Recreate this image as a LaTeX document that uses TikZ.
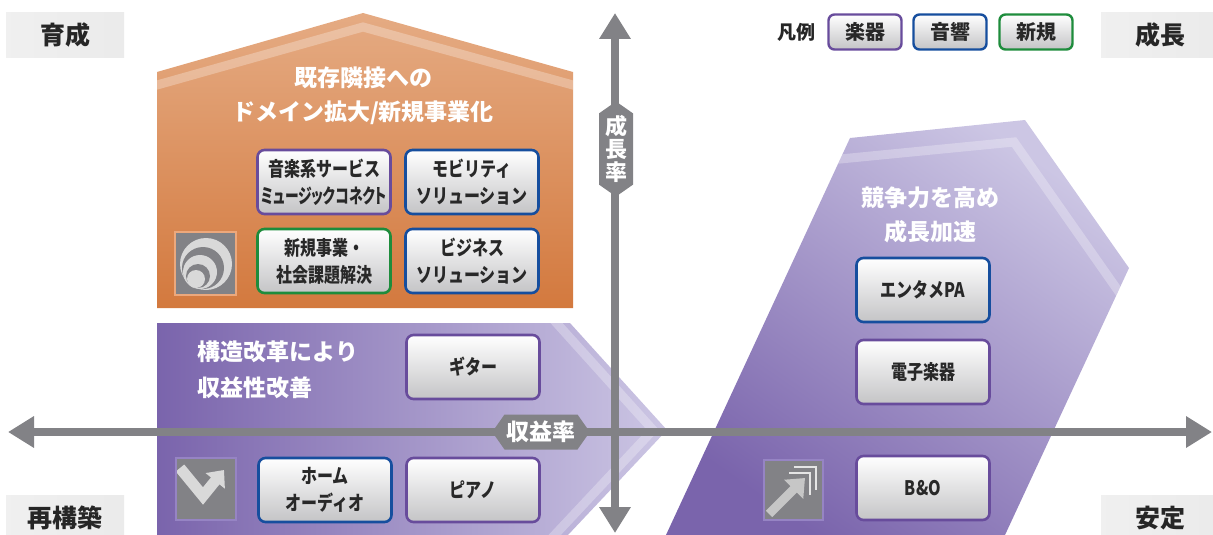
\documentclass[tikz,border=0pt]{standalone}
\usepackage{fontspec}
\setmainfont{Noto Sans CJK JP}
\newfontfamily\boxfont{Noto Sans CJK JP}[FakeStretch=0.8]
\newfontfamily\pfont{Noto Sans CJK JP}[FakeStretch=0.8,RawFeature=+palt]
\usetikzlibrary{arrows.meta,shapes.symbols,positioning}
\definecolor{axisgray}{RGB}{130,130,134}
\definecolor{boxgray}{RGB}{196,196,198}
\definecolor{boxtext}{RGB}{40,40,40}
\definecolor{legpurple}{RGB}{104,76,156}
\definecolor{legblue}{RGB}{22,78,158}
\definecolor{leggreen}{RGB}{30,140,60}
\definecolor{housetop}{RGB}{229,171,131}
\definecolor{housebot}{RGB}{211,121,62}
\definecolor{violetdark}{RGB}{122,100,172}
\definecolor{violetlight}{RGB}{204,198,228}
\definecolor{iconorange}{RGB}{236,168,124}
\definecolor{iconviolet}{RGB}{150,132,196}

\begin{document}
\begin{tikzpicture}[x=1pt,y=-1pt,
  bizbox/.style={draw, line width=2.6pt, rounded corners=7pt, top color=white,
    bottom color=boxgray, minimum width=133pt, minimum height=64pt, inner sep=0pt,
    align=center, text=boxtext, font=\boxfont\fontsize{20}{27}\selectfont\bfseries},
  instrbox/.style={bizbox, draw=legpurple},
  audiobox/.style={bizbox, draw=legblue},
  newbox/.style={bizbox, draw=leggreen},
  legbox/.style={draw, line width=2.4pt, rounded corners=6pt, top color=white,
    bottom color=boxgray, minimum width=73pt, minimum height=35pt, inner sep=0pt,
    text=boxtext, font=\fontsize{20}{20}\selectfont\bfseries},
  cornerlbl/.style={minimum width=118pt, minimum height=45pt, inner sep=0pt,
    left color=gray!12, middle color=gray!32, right color=gray!16,
    text=black!85, font=\fontsize{25}{25}\selectfont\bfseries},
  regtitle/.style={text=white, align=center, font=\fontsize{23}{34}\selectfont\bfseries},
  axis/.style={axisgray, line width=8pt,
    arrows={Triangle[length=26pt,width=30pt]-Triangle[length=26pt,width=30pt]}},
  axlbl/.style={signal, signal pointer angle=110, fill=axisgray, text=white,
    inner sep=2pt, font=\fontsize{23}{24}\selectfont\bfseries},
  stripe/.style={white, opacity=0.28, line width=9pt},
  iconbox/.style={line width=2pt, fill=axisgray}]
  \useasboundingbox (0,0) rectangle (1213,535);

  \shade[top color=housetop, bottom color=housebot]
    (157,72) -- (363,13) -- (573,72) -- (573,308) -- (157,308) -- cycle;
  \begin{scope}
    \clip (157,72) -- (363,13) -- (573,72) -- (573,308) -- (157,308) -- cycle;
    \draw[stripe] (150,87) -- (363,27) -- (580,87);
  \end{scope}

  \shade[left color=violetdark, right color=violetlight]
    (157,323) -- (570,323) -- (667,430) -- (568,535) -- (157,535) -- cycle;
  \begin{scope}
    \clip (157,323) -- (570,323) -- (667,430) -- (568,535) -- (157,535) -- cycle;
    \draw[stripe] (552,318) -- (653,430) -- (550,540);
  \end{scope}

  \shade[top color=violetlight, bottom color=violetdark, shading angle=-35]
    (850,138) -- (1025,120) -- (1129,268) -- (1005,535) -- (666,535) -- cycle;
  \begin{scope}
    \clip (850,138) -- (1025,120) -- (1129,268) -- (1005,535) -- (666,535) -- cycle;
    \draw[stripe] (830,160) -- (1014,142) -- (1140,322);
  \end{scope}

  \draw[iconbox, draw=iconorange] (175,232) rectangle (236,295);
  \fill[gray!30] (206,264) circle (26);
  \fill[axisgray] (203,268) circle (21);
  \fill[gray!30] (200,272) circle (17);
  \fill[axisgray] (198,276) circle (12);
  \fill[gray!30] (196,279) circle (9);

  \draw[iconbox, draw=iconviolet] (176,458) rectangle (236,520);
  \begin{scope}
    \clip (177,459) rectangle (235,519);
    \draw[gray!30, line width=11pt, arrows={-Triangle[length=14pt,width=24pt]}]
      (180,468) -- (203,496) -- (224,470);
  \end{scope}

  \draw[iconbox, draw=iconviolet] (764,460) rectangle (823,520);
  \draw[gray!20, line width=2.5pt] (794,467) -- (816,467) -- (816,490);
  \draw[gray!20, line width=2.5pt] (789,473) -- (810,473) -- (810,495);
  \draw[gray!45, line width=9pt, arrows={-Triangle[length=16pt,width=26pt]}]
    (769,514) -- (805,478);

  \coordinate (W) at (8,432);
  \coordinate (E) at (1212,432);
  \coordinate (S) at (615,533);
  \coordinate (N) at (615,13);
  \draw[axis] (W) -- (E);
  \draw[axis] (S) -- (N);
  \node[axlbl, signal to=west and east, minimum height=35pt] (profit) at (541,432) {収益率};
  \node[axlbl, signal to=north and south, minimum width=34pt, align=center,
    font=\fontsize{22}{23}\selectfont\bfseries] (growth) at (616,149) {成\\長\\率};

  \node[regtitle] (domain) at (363,96) {既存隣接への\\ドメイン拡大/新規事業化};
  \node[regtitle] (accel) at (930,215) {競争力を高め\\成長加速};
  \node[regtitle, align=left, anchor=west, font=\fontsize{23}{36}\selectfont\bfseries]
    (reform) at (194,370) {構造改革により\\収益性改善};

  \node[instrbox] (music) at (324,182)
    {音楽系サービス\\\scalebox{0.86}[1]{\pfont\bfseries ミュージックコネクト}};
  \node[audiobox] (mobil) at (472,182) {モビリティ\\ソリューション};
  \node[newbox] (social) at (324,261) {新規事業・\\社会課題解決};
  \node[audiobox] (bizsol) at (472,261) {ビジネス\\ソリューション};
  \node[instrbox] (guitar) at (473,367) {ギター};
  \node[audiobox] (home) at (325,490) {ホーム\\オーディオ};
  \node[instrbox] (piano) at (473,490) {ピアノ};
  \node[audiobox] (entpa) at (923,290) {エンタメPA};
  \node[instrbox] (digital) at (923,372) {電子楽器};
  \node[instrbox] (bno) at (923,488) {B\&O};

  \node[text=black!85, font=\fontsize{19}{19}\selectfont\bfseries] (legend) at (796,32) {凡例};
  \node[legbox, draw=legpurple] (leginstr) at (865,32) {楽器};
  \node[legbox, draw=legblue] (legaudio) at (950,32) {音響};
  \node[legbox, draw=leggreen] (legnew) at (1036,32) {新規};

  \node[cornerlbl] (TL) at (65,35) {育成};
  \node[cornerlbl] (TR) at (1160,35) {成長};
  \node[cornerlbl] (BL) at (65,518) {再構築};
  \node[cornerlbl] (BR) at (1160,518) {安定};
\end{tikzpicture}
\end{document}
